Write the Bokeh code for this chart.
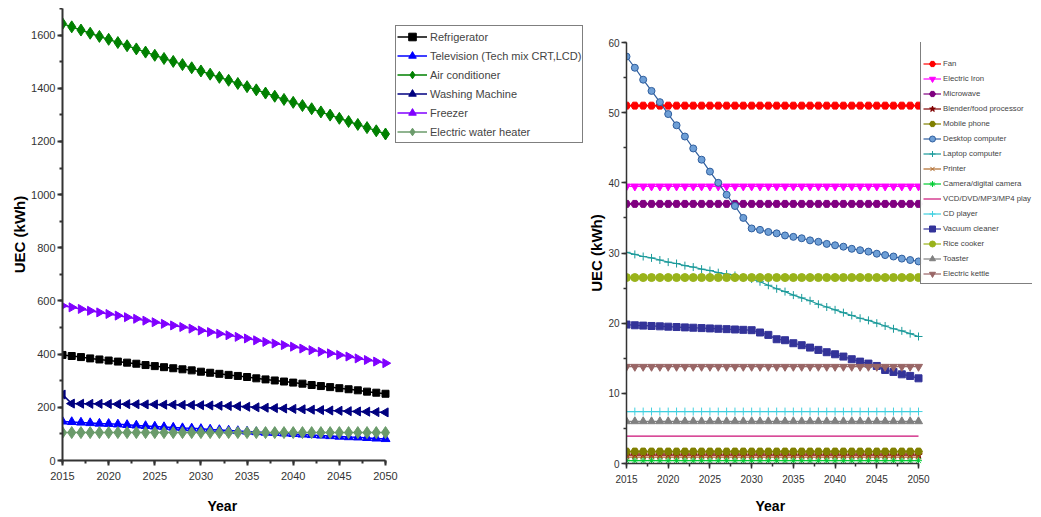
import math
from bokeh.plotting import figure
from bokeh.models import Legend, LegendItem, Range1d, FixedTicker, Title
from bokeh.embed import file_html
from bokeh.resources import INLINE

years = list(range(2015, 2051))

# ---------------- left chart data (UEC, kWh) ----------------
refrigerator = [397, 393, 389, 384, 380, 376, 372, 368, 364, 359, 355, 351, 347, 343, 339, 334, 330, 326,
                322, 318, 314, 309, 305, 301, 297, 293, 289, 284, 280, 276, 272, 268, 264, 259, 255, 251]
television = [147, 145, 143, 141, 139, 138, 136, 134, 132, 130, 128, 126, 124, 122, 121, 119, 117, 115,
              113, 111, 109, 107, 105, 104, 102, 100, 98, 96, 94, 92, 90, 88, 87, 85, 83, 81]
air_conditioner = [1643, 1631, 1619, 1607, 1595, 1584, 1572, 1560, 1548, 1536, 1524, 1512, 1501, 1489,
                   1477, 1465, 1453, 1441, 1430, 1418, 1406, 1394, 1382, 1370, 1358, 1347, 1335, 1323,
                   1311, 1299, 1287, 1275, 1264, 1252, 1240, 1228]
washing_machine = [248, 214, 213.5, 213, 213, 212.5, 212, 212, 211.5, 211, 211, 210, 210, 209, 208.5, 208,
                   207, 206, 205, 204, 202, 200, 198.5, 197, 195.5, 194, 192.5, 191, 189.5, 188, 187,
                   185.5, 184.5, 183.5, 182, 181]
freezer = [582, 576, 570, 563, 557, 551, 545, 539, 533, 526, 520, 514, 508, 502, 496, 489, 483, 477,
           471, 465, 459, 452, 446, 440, 434, 428, 421, 415, 409, 403, 397, 391, 384, 378, 372, 366]
water_heater = [105] * 36

# ---------------- right chart data (UEC, kWh) ----------------
fan = [51.0] * 36
electric_iron = [39.5] * 36
microwave = [37.0] * 36
blender = [1.2] * 36
mobile_phone = [1.7] * 36
desktop = [58.0, 56.4, 54.7, 53.1, 51.5, 49.8, 48.2, 46.6, 44.9, 43.3, 41.6, 40.0, 38.3, 36.7, 35.0, 33.5,
           33.3, 33.0, 32.8, 32.5, 32.3, 32.1, 31.8, 31.6, 31.3, 31.1, 30.9, 30.6, 30.4, 30.2, 29.9, 29.7,
           29.5, 29.2, 29.0, 28.8]
laptop = [30.1, 29.8, 29.5, 29.3, 29.0, 28.7, 28.5, 28.2, 28.0, 27.7, 27.5, 27.2, 27.0, 26.8, 26.5, 26.3,
          25.9, 25.4, 24.9, 24.5, 24.0, 23.6, 23.2, 22.7, 22.3, 21.9, 21.5, 21.1, 20.7, 20.4, 20.0, 19.6,
          19.2, 18.9, 18.5, 18.1]
printer = [0.9] * 36
camera = [0.4] * 36
vcd_player = [3.9] * 36
cd_player = [7.4] * 36
vacuum = [19.8, 19.7, 19.65, 19.6, 19.55, 19.5, 19.45, 19.4, 19.35, 19.3, 19.25, 19.2, 19.15, 19.1, 19.05,
          19.0, 18.67, 18.33, 17.71, 17.57, 17.14, 16.86, 16.52, 16.19, 15.86, 15.57, 15.24, 14.86, 14.52,
          14.24, 13.9, 13.33, 13.05, 12.71, 12.48, 12.14]
rice_cooker = [26.5] * 36
toaster = [6.0] * 36
kettle = [13.8] * 36

x_major = [2015, 2020, 2025, 2030, 2035, 2040, 2045, 2050]
x_minor = [2015 + 2.5 * i for i in range(15)]
left_major = [0, 200, 400, 600, 800, 1000, 1200, 1400, 1600]
left_minor = [100 * i for i in range(18)]
right_major = [0, 10, 20, 30, 40, 50, 60]
right_minor = [5 * i for i in range(13)]

FONT = "Liberation Sans, Arial, sans-serif"
X0, X1 = 2015, 2050


def style_axes(p, xmaj, xmin, ymaj, ymin, lw, tick_size, year_offset, year_standoff):
    for ax in (p.xaxis[0], p.yaxis[0]):
        ax.axis_line_width = lw
        ax.axis_line_color = "#333333"
        ax.major_tick_line_color = "#333333"
        ax.minor_tick_line_color = "#333333"
        ax.major_tick_line_width = lw
        ax.minor_tick_line_width = lw
        ax.major_tick_in = 0
        ax.major_tick_out = 5
        ax.minor_tick_in = 0
        ax.minor_tick_out = 3
        ax.major_label_text_font = FONT
        ax.major_label_text_font_size = tick_size
        ax.major_label_text_color = "#333333"
        ax.major_label_standoff = 2
        ax.axis_label_text_font = FONT
        ax.axis_label_text_font_style = "bold"
        ax.axis_label_text_color = "#000000"
    p.xaxis[0].bounds = (X0, X1)
    p.xaxis[0].major_label_standoff = 6
    p.xaxis[0].ticker = FixedTicker(ticks=xmaj, minor_ticks=xmin)
    p.yaxis[0].ticker = FixedTicker(ticks=ymaj, minor_ticks=ymin)
    p.yaxis[0].axis_label = "UEC (kWh)"
    p.yaxis[0].axis_label_text_font_size = "15px"
    p.yaxis[0].axis_label_standoff = 0
    p.add_layout(Title(text="Year", align="left", offset=year_offset, standoff=year_standoff,
                       text_font=FONT, text_font_size="14px", text_font_style="bold",
                       text_color="#000000"), "below")
    p.xgrid.visible = False
    p.ygrid.visible = False
    p.outline_line_color = None


# ---------------- left figure ----------------
L_DATA_W, L_FW, L_FH = 323, 523, 452
p1 = figure(frame_width=L_FW, frame_height=L_FH, min_border_left=54, min_border_right=0,
            min_border_top=0, min_border_bottom=53, output_backend="svg", toolbar_location=None,
            x_range=Range1d(X0, X0 + (X1 - X0) * L_FW / L_DATA_W), y_range=Range1d(0, 1700))
style_axes(p1, x_major, x_minor, left_major, left_minor, 2, "11px", 145, 26)

left_series = [
    ("Refrigerator", refrigerator, "#000000", "square", 7, 0.0),
    ("Television (Tech mix CRT,LCD)", television, "#0000FF", "triangle", 9, 0.0),
    ("Air conditioner", air_conditioner, "#008000", "diamond", 12, 0.0),
    ("Washing Machine", washing_machine, "#000080", "triangle", 9, math.pi / 2),
    ("Freezer", freezer, "#8000FF", "triangle", 9, -math.pi / 2),
    ("Electric water heater", water_heater, "#6B9B6B", "diamond", 12, 0.0),
]
items1 = []
for name, ys, col, mk, sz, ang in left_series:
    ln = p1.line(years, ys, line_color=col, line_width=1.5)
    sc = p1.scatter(years, ys, marker=mk, size=sz, angle=ang, fill_color=col, line_color=col)
    items1.append(LegendItem(label=name, renderers=[ln, sc]))

leg1 = Legend(items=items1, location=(L_DATA_W + 10, L_FH - 19 - 116), margin=0, padding=1, spacing=0,
              label_height=19, glyph_height=19, glyph_width=30, label_standoff=3,
              label_text_font=FONT, label_text_font_size="11px",
              border_line_color="#000000", border_line_width=1)
p1.add_layout(leg1, "center")

# ---------------- right figure ----------------
R_DATA_W, R_FW, R_FH = 292, 406, 421
p2 = figure(frame_width=R_FW, frame_height=R_FH, min_border_left=41, min_border_right=0,
            min_border_top=34, min_border_bottom=50, output_backend="svg", toolbar_location=None,
            x_range=Range1d(X0, X0 + (X1 - X0) * R_FW / R_DATA_W), y_range=Range1d(0, 60))
style_axes(p2, x_major, x_minor, right_major, right_minor, 1.5, "10px", 129, 21)

right_series = [
    ("Fan", fan, "#FF0000", "#FF0000", "hex", 8),
    ("Electric Iron", electric_iron, "#FF00FF", "#FF00FF", "inverted_triangle", 8),
    ("Microwave", microwave, "#800080", "#800080", "hex", 8),
    ("Blender/food processor", blender, "#800000", "#800000", "star", 8),
    ("Mobile phone", mobile_phone, "#808000", "#808000", "hex", 8),
    ("Desktop computer", desktop, "#2F5E9E", "#6E9FD6", "circle", 7),
    ("Laptop computer", laptop, "#1A9A9A", "#4CC0C0", "cross", 8),
    ("Printer", printer, "#B06A2A", "#B06A2A", "x", 7),
    ("Camera/digital camera", camera, "#00CC33", "#00CC33", "asterisk", 7),
    ("VCD/DVD/MP3/MP4 play", vcd_player, "#CC1177", None, None, 0),
    ("CD player", cd_player, "#40D0E0", "#40D0E0", "cross", 8),
    ("Vacuum cleaner", vacuum, "#333399", "#333399", "square", 7),
    ("Rice cooker", rice_cooker, "#99B31A", "#99B31A", "circle", 8),
    ("Toaster", toaster, "#808080", "#808080", "triangle", 8),
    ("Electric kettle", kettle, "#996666", "#996666", "inverted_triangle", 8),
]
items2 = []
for name, ys, col, fill, mk, sz in right_series:
    ln = p2.line(years, ys, line_color=col, line_width=1.2)
    rs = [ln]
    if mk is not None:
        sc = p2.scatter(years, ys, marker=mk, size=sz, fill_color=fill, line_color=col)
        rs.append(sc)
    items2.append(LegendItem(label=name, renderers=rs))

leg2 = Legend(items=items2, location=(R_DATA_W + 2, R_FH - 242), margin=0, padding=2, spacing=0,
              label_height=15, glyph_height=15, glyph_width=18, label_standoff=2,
              label_text_font=FONT, label_text_font_size="7.8px",
              title=" ", title_text_font_size="9px", title_standoff=2,
              border_line_color="#000000", border_line_width=1)
p2.add_layout(leg2, "center")

html = file_html([p1, p2], INLINE)
flex_css = ("<style>html,body{overflow:hidden;}"
            "body{display:flex;flex-direction:row;align-items:flex-start;margin:8px 8px 0 8px;}</style>")
html = html.replace("</head>", flex_css + "</head>", 1)
open("out.html", "w").write(html)
